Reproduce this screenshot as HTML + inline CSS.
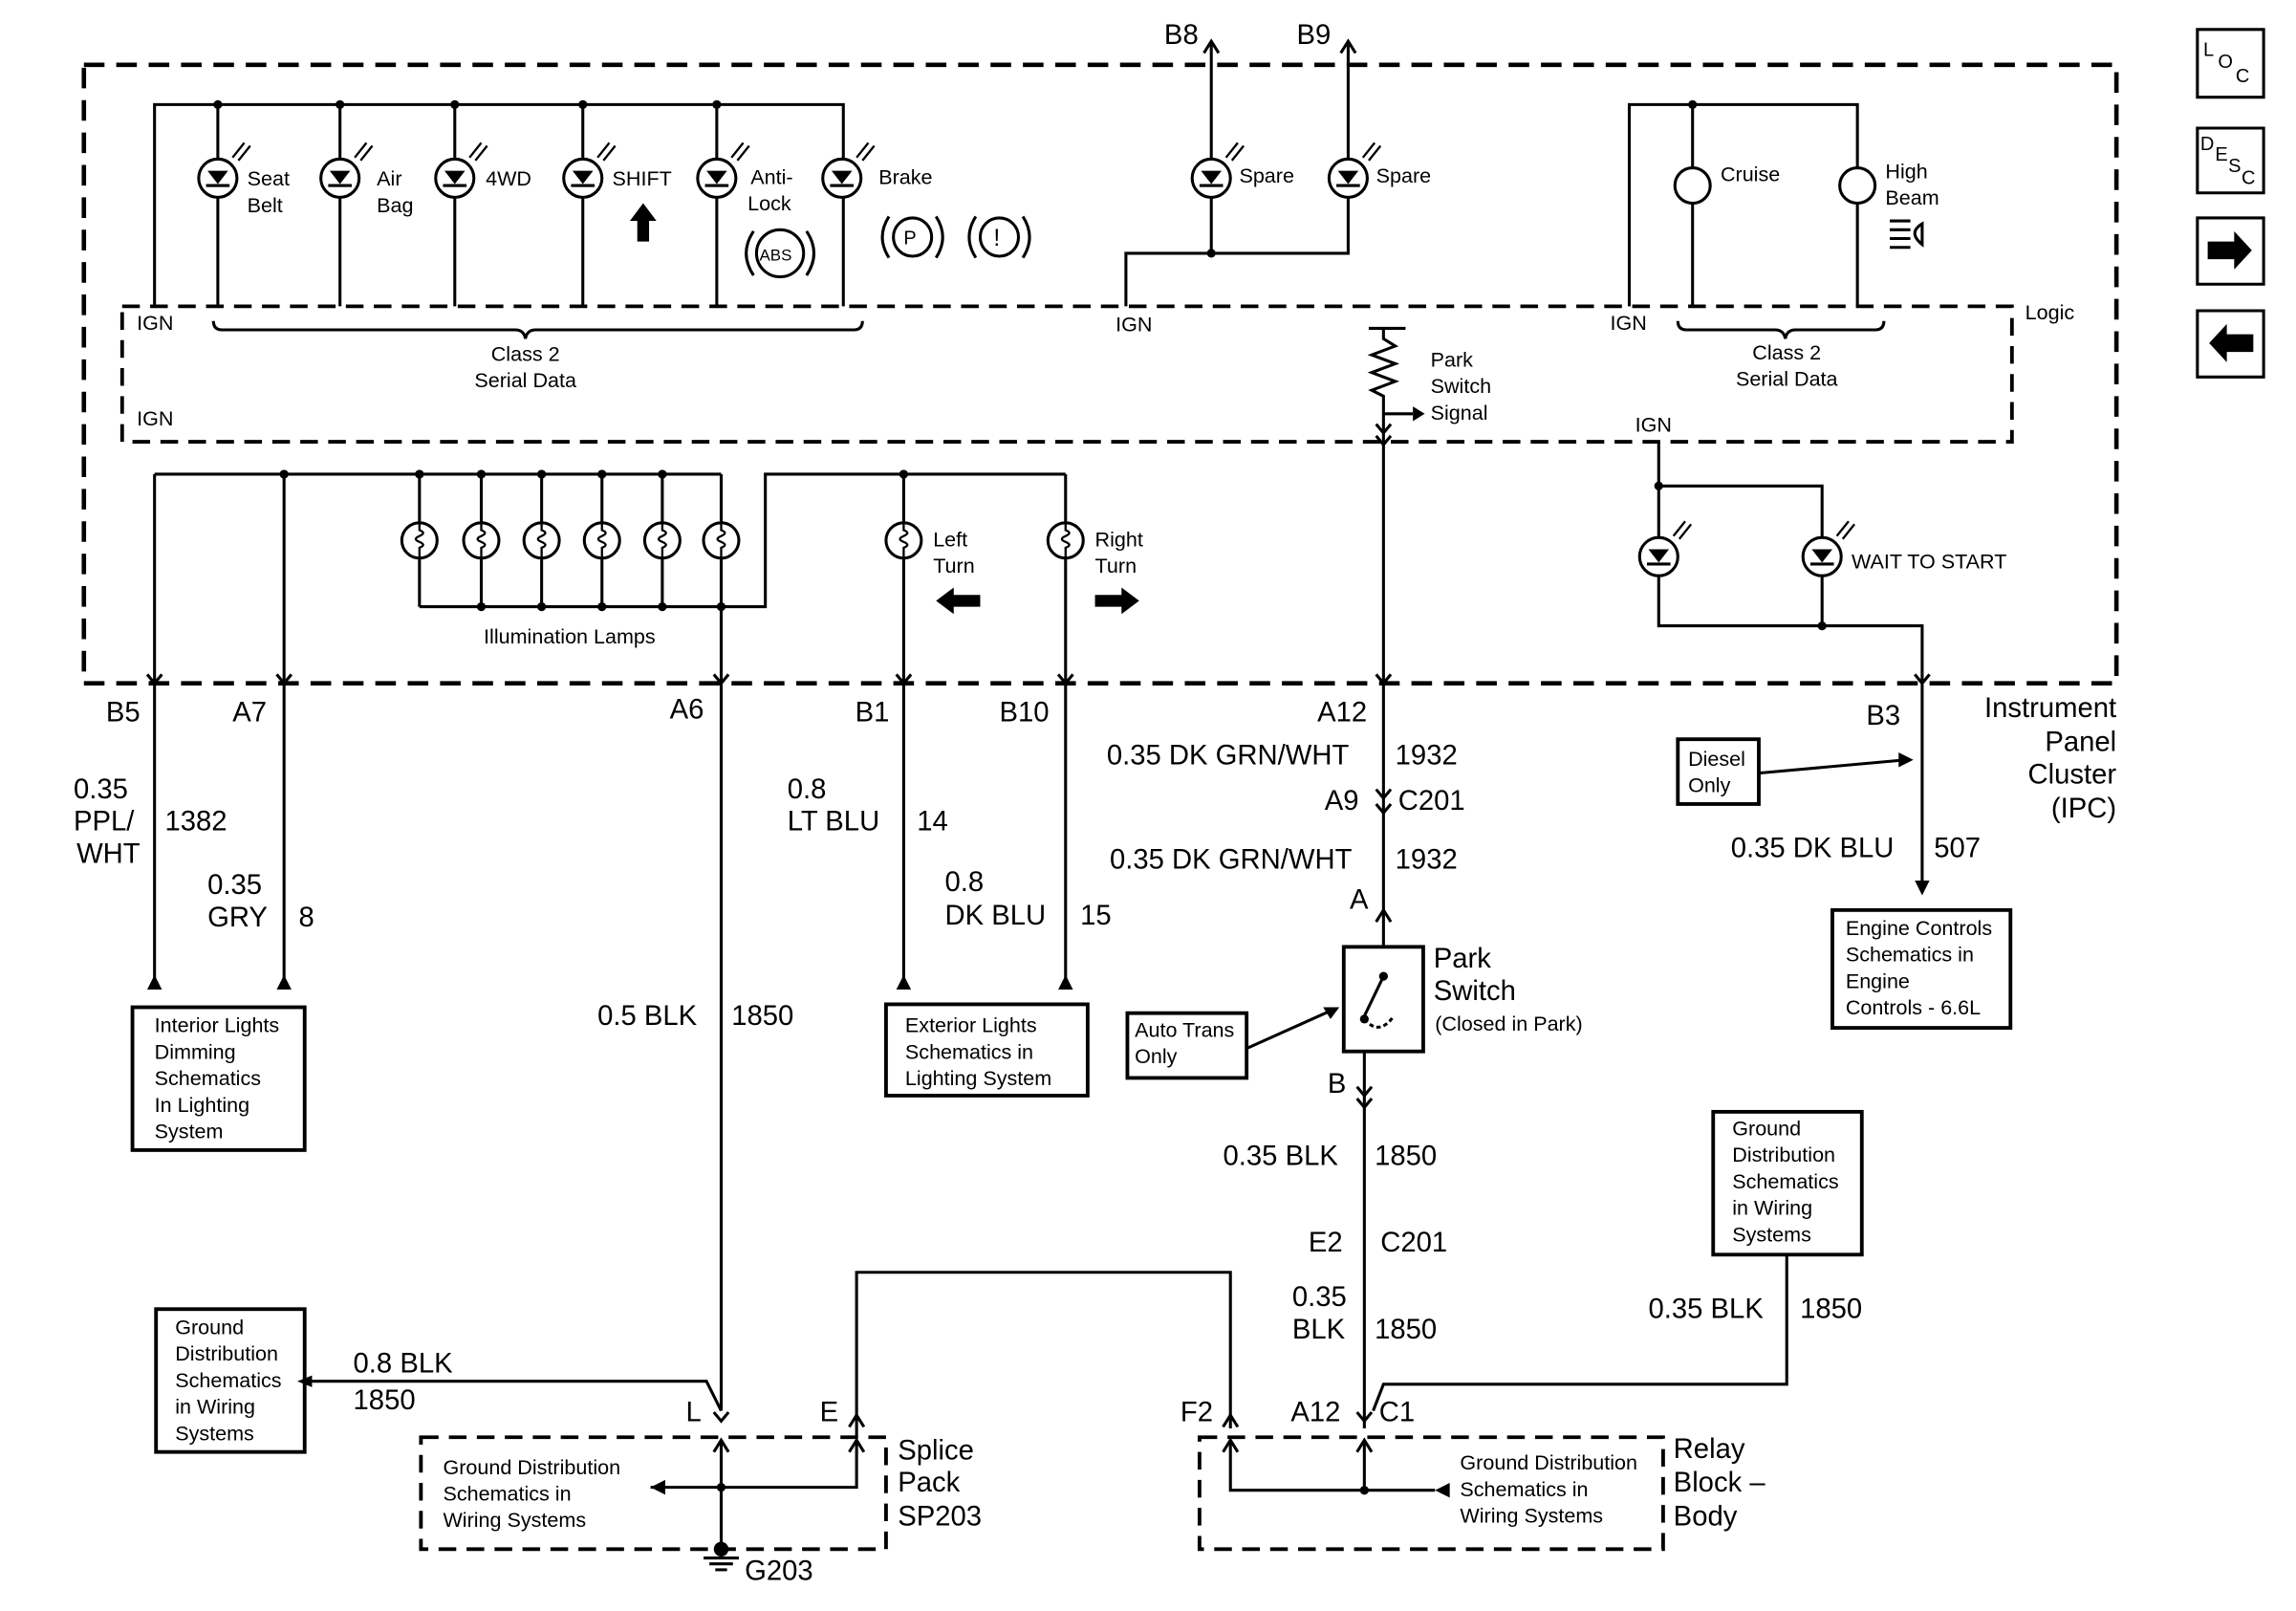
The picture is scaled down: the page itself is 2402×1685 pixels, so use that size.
<!DOCTYPE html>
<html><head><meta charset="utf-8"><style>html,body{margin:0;padding:0;background:#fff}svg{display:block}text{font-family:"Liberation Sans",Arial,sans-serif;fill:#000}</style></head>
<body>
<svg width="2402" height="1685" viewBox="0 0 1560 1094" preserveAspectRatio="none" xmlns="http://www.w3.org/2000/svg">
<defs>
<g id="led"><circle r="13" fill="#fff" stroke="#000" stroke-width="2"/><path d="M-7,-5 L7,-5 L0,4 Z" fill="#000"/><line x1="-8" y1="5" x2="8" y2="5" stroke="#000" stroke-width="2"/><path d="M10,-14 l8,-10 M14,-12 l8,-10" stroke="#000" stroke-width="1.5"/></g>
<g id="bulb"><circle r="12" fill="#fff" stroke="#000" stroke-width="2"/><path d="M0,-12 v5 q5,2 0,4 q-5,2 0,4 q5,2 0,4 v7" fill="none" stroke="#000" stroke-width="1.5"/></g>
<g id="chev"><path d="M-5,-4 L0,2 L5,-4" fill="none" stroke="#000" stroke-width="2"/></g>
<g id="up"><path d="M-5,4 L0,-4 L5,4" fill="none" stroke="#000" stroke-width="2"/></g>
</defs>
<g fill="none" stroke="#000">
<rect x="57" y="44" width="1381" height="420" stroke-width="3" stroke-dasharray="14,8"/>
<rect x="83" y="208" width="1284" height="92" stroke-width="2.5" stroke-dasharray="12,7"/>
<rect x="286" y="976" width="316" height="76" stroke-width="2.5" stroke-dasharray="12,7"/>
<rect x="815" y="976" width="315" height="76" stroke-width="2.5" stroke-dasharray="12,7"/>
<g stroke-width="2">
<path d="M105,208 V71 H573 V208 M148,71V208 M231,71V208 M309,71V208 M396,71V208 M487,71V208"/>
<path d="M145,218 q0,6 6,6 H350 q6,0 7,6 q1,-6 7,-6 H580 q6,0 6,-6"/>
<path d="M823,30 V172 M916,30 V172 H765 V208"/>
<path d="M1107,208 V71 H1262 V208 M1150,71 V208"/>
<path d="M1140,218 q0,6 6,6 H1206 q6,0 7,6 q1,-6 7,-6 H1274 q6,0 6,-6"/>
<path d="M930,223 H955 M940,223 V230 l8,5 l-16,6 l16,6 l-16,6 l16,6 l-16,6 l8,4 V300"/>
<path d="M940,281 H960"/>
<path d="M1127,300 V425 H1306 V605 M1127,330 H1238 V425"/>
<path d="M105,322 H490 M105,322 V672 M193,322 V672 M285,322V412 M327,322V412 M368,322V412 M409,322V412 M450,322V412 M490,322V958 M285,412 H520 V322 H724 M614,322 V672 M724,322 V672"/>
<path d="M940,300 V643 M927,714 V970"/>
<rect x="913" y="643" width="54" height="71" stroke-width="2.5"/>
<path d="M940,663 L927,690" />
<path d="M927,692 q10,12 20,-2" stroke-dasharray="3,2"/>
<path d="M207,938 H480 L490,958"/>
<path d="M582,976 V864 H836 V970"/>
<path d="M933,958 L940,940 H1214 V852"/>
<path d="M490,978 V1050 M582,978 V1010 H442 M836,978 V1012 H975 M927,978 V1012"/>
<path d="M1195,525 L1295,516 M847,712 L905,686"/>
<rect x="90" y="684" width="117" height="97" stroke-width="2.5"/>
<rect x="602" y="682" width="137" height="62" stroke-width="2.5"/>
<rect x="1245" y="618" width="121" height="80" stroke-width="2.5"/>
<rect x="1140" y="502" width="55" height="44" stroke-width="2.5"/>
<rect x="766" y="688" width="81" height="44" stroke-width="2.5"/>
<rect x="1164" y="755" width="101" height="97" stroke-width="2.5"/>
<rect x="106" y="889" width="101" height="97" stroke-width="2.5"/>
<path d="M1493,20h45v46h-45z M1493,87h45v44h-45z M1493,148h45v45h-45z M1493,211h45v45h-45z"/>
<path d="M478,1058 H502 M482,1062 H498 M486,1066 H494"/>
<path d="M1150,115 v22 M1262,115 v22"/>
</g></g>
<g fill="#000">
<circle cx="148" cy="71" r="3"/><circle cx="231" cy="71" r="3"/><circle cx="309" cy="71" r="3"/><circle cx="396" cy="71" r="3"/><circle cx="487" cy="71" r="3"/><circle cx="1150" cy="71" r="3"/><circle cx="823" cy="172" r="3"/>
<circle cx="193" cy="322" r="3"/><circle cx="285" cy="322" r="3"/><circle cx="327" cy="322" r="3"/><circle cx="368" cy="322" r="3"/><circle cx="409" cy="322" r="3"/><circle cx="450" cy="322" r="3"/><circle cx="614" cy="322" r="3"/>
<circle cx="327" cy="412" r="3"/><circle cx="368" cy="412" r="3"/><circle cx="409" cy="412" r="3"/><circle cx="450" cy="412" r="3"/><circle cx="490" cy="412" r="3"/>
<circle cx="1127" cy="330" r="3"/><circle cx="1238" cy="425" r="3"/><circle cx="490" cy="1010" r="3"/><circle cx="927" cy="1012" r="3"/><circle cx="490" cy="1052" r="5"/>
<circle cx="940" cy="663" r="3"/><circle cx="927" cy="692" r="3"/>
<path d="M960,276 L968,281 L960,286Z M100,672 h10 l-5,-10Z M188,672 h10 l-5,-10Z M609,672 h10 l-5,-10Z M719,672 h10 l-5,-10Z M1301,598 h10 l-5,10Z M1300,516 l-10,-5 v10Z M910,684 l-11,0 l5,8Z M442,1010 l10,-5 v10Z M975,1012 l10,-5 v10Z M202,938 l10,-4 v8Z"/>
<path d="M636,408 l12,-9 v5 h18 v8 h-18 v5Z M774,408 l-12,-9 v5 h-18 v8 h18 v5Z M437,138 l-9,12 h5 v14 h8 v-14 h5Z"/>
<path d="M1500,164 h18 v-7 l12,13 l-12,13 v-7 h-18Z M1531,227 h-18 v-7 l-12,13 l12,13 v-7 h18Z"/>
</g>
<g>
<use href="#led" x="148" y="121"/><use href="#led" x="231" y="121"/><use href="#led" x="309" y="121"/><use href="#led" x="396" y="121"/><use href="#led" x="487" y="121"/><use href="#led" x="572" y="121"/>
<use href="#led" x="823" y="121"/><use href="#led" x="916" y="121"/><use href="#led" x="1127" y="378"/><use href="#led" x="1238" y="378"/>
<use href="#bulb" x="285" y="367"/><use href="#bulb" x="327" y="367"/><use href="#bulb" x="368" y="367"/><use href="#bulb" x="409" y="367"/><use href="#bulb" x="450" y="367"/><use href="#bulb" x="490" y="367"/><use href="#bulb" x="614" y="367"/><use href="#bulb" x="724" y="367"/>
<use href="#chev" x="105" y="462"/><use href="#chev" x="193" y="462"/><use href="#chev" x="490" y="462"/><use href="#chev" x="614" y="462"/><use href="#chev" x="724" y="462"/><use href="#chev" x="940" y="462"/><use href="#chev" x="1306" y="462"/>
<use href="#chev" x="940" y="300"/><use href="#chev" x="940" y="292"/><use href="#chev" x="940" y="540"/><use href="#chev" x="940" y="550"/><use href="#up" x="940" y="622"/><use href="#chev" x="927" y="742"/><use href="#chev" x="927" y="750"/>
<use href="#up" x="823" y="32"/><use href="#up" x="916" y="32"/><use href="#chev" x="490" y="963"/><use href="#up" x="582" y="965"/><use href="#up" x="836" y="965"/><use href="#chev" x="927" y="963"/>
<use href="#up" x="490" y="982"/><use href="#up" x="582" y="982"/><use href="#up" x="836" y="982"/><use href="#up" x="927" y="982"/>
</g>
<g fill="none" stroke="#000" stroke-width="2">
<circle cx="1150" cy="126" r="12" fill="#fff"/><circle cx="1262" cy="126" r="12" fill="#fff"/>
<circle cx="620" cy="161" r="13"/><circle cx="679" cy="161" r="13"/><path d="M604,147 q-9,14 0,28 M636,147 q9,14 0,28 M663,147 q-9,14 0,28 M695,147 q9,14 0,28"/>
<circle cx="530" cy="172" r="16"/><path d="M512,157 q-10,15 0,30 M548,157 q10,15 0,30"/>
<path d="M1306,152 q-10,6 0,14 z M1284,150 h14 M1284,156 h14 M1284,162 h14 M1284,168 h14"/>
</g>
<g font-size="14">
<text x="168" y="126">Seat</text><text x="168" y="144">Belt</text>
<text x="256" y="126">Air</text><text x="256" y="144">Bag</text>
<text x="330" y="126">4WD</text><text x="416" y="126">SHIFT</text>
<text x="510" y="125">Anti-</text><text x="508" y="143">Lock</text><text x="597" y="125">Brake</text>
<text x="614" y="166" font-size="13">P</text><text x="675" y="167" font-size="16">!</text><text x="516" y="177" font-size="11">ABS</text>
<text x="842" y="124">Spare</text><text x="935" y="124">Spare</text>
<text x="1169" y="123">Cruise</text><text x="1281" y="121">High</text><text x="1281" y="139">Beam</text>
<text x="93" y="224">IGN</text><text x="93" y="289">IGN</text><text x="758" y="225">IGN</text><text x="1094" y="224">IGN</text><text x="1111" y="293">IGN</text>
<text x="357" y="245" text-anchor="middle">Class 2</text><text x="357" y="263" text-anchor="middle">Serial Data</text>
<text x="1214" y="244" text-anchor="middle">Class 2</text><text x="1214" y="262" text-anchor="middle">Serial Data</text>
<text x="1376" y="217">Logic</text>
<text x="972" y="249">Park</text><text x="972" y="267">Switch</text><text x="972" y="285">Signal</text>
<text x="387" y="437" text-anchor="middle">Illumination Lamps</text>
<text x="634" y="371">Left</text><text x="634" y="389">Turn</text><text x="744" y="371">Right</text><text x="744" y="389">Turn</text>
<text x="1258" y="386">WAIT TO START</text>
<text x="105" y="701">Interior Lights</text><text x="105" y="719">Dimming</text><text x="105" y="737">Schematics</text><text x="105" y="755">In Lighting</text><text x="105" y="773">System</text>
<text x="615" y="701">Exterior Lights</text><text x="615" y="719">Schematics in</text><text x="615" y="737">Lighting System</text>
<text x="1254" y="635">Engine Controls</text><text x="1254" y="653">Schematics in</text><text x="1254" y="671">Engine</text><text x="1254" y="689">Controls - 6.6L</text>
<text x="1147" y="520">Diesel</text><text x="1147" y="538">Only</text>
<text x="771" y="704">Auto Trans</text><text x="771" y="722">Only</text>
<text x="1177" y="771">Ground</text><text x="1177" y="789">Distribution</text><text x="1177" y="807">Schematics</text><text x="1177" y="825">in Wiring</text><text x="1177" y="843">Systems</text>
<text x="119" y="906">Ground</text><text x="119" y="924">Distribution</text><text x="119" y="942">Schematics</text><text x="119" y="960">in Wiring</text><text x="119" y="978">Systems</text>
<text x="301" y="1001">Ground Distribution</text><text x="301" y="1019">Schematics in</text><text x="301" y="1037">Wiring Systems</text>
<text x="992" y="998">Ground Distribution</text><text x="992" y="1016">Schematics in</text><text x="992" y="1034">Wiring Systems</text>
<text x="975" y="700">(Closed in Park)</text>
</g>
<g font-size="19">
<text x="791" y="30">B8</text><text x="881" y="30">B9</text>
<text x="72" y="490">B5</text><text x="158" y="490">A7</text><text x="455" y="488">A6</text><text x="581" y="490">B1</text><text x="679" y="490">B10</text><text x="895" y="490">A12</text><text x="1268" y="492">B3</text>
<text x="1438" y="487" text-anchor="end">Instrument</text><text x="1438" y="510" text-anchor="end">Panel</text><text x="1438" y="532" text-anchor="end">Cluster</text><text x="1438" y="555" text-anchor="end">(IPC)</text>
<text x="50" y="542">0.35</text><text x="50" y="564">PPL/</text><text x="52" y="586">WHT</text><text x="112" y="564">1382</text>
<text x="141" y="607">0.35</text><text x="141" y="629">GRY</text><text x="203" y="629">8</text>
<text x="535" y="542">0.8</text><text x="535" y="564">LT BLU</text><text x="623" y="564">14</text>
<text x="642" y="605">0.8</text><text x="642" y="628">DK BLU</text><text x="734" y="628">15</text>
<text x="406" y="696">0.5 BLK</text><text x="497" y="696">1850</text>
<text x="752" y="519">0.35 DK GRN/WHT</text><text x="948" y="519">1932</text>
<text x="900" y="550">A9</text><text x="950" y="550">C201</text>
<text x="754" y="590">0.35 DK GRN/WHT</text><text x="948" y="590">1932</text>
<text x="917" y="617">A</text><text x="974" y="657">Park</text><text x="974" y="679">Switch</text>
<text x="902" y="742">B</text>
<text x="1176" y="582">0.35 DK BLU</text><text x="1314" y="582">507</text>
<text x="831" y="791">0.35 BLK</text><text x="934" y="791">1850</text>
<text x="889" y="850">E2</text><text x="938" y="850">C201</text>
<text x="878" y="887">0.35</text><text x="878" y="909">BLK</text><text x="934" y="909">1850</text>
<text x="1120" y="895">0.35 BLK</text><text x="1223" y="895">1850</text>
<text x="240" y="932">0.8 BLK</text><text x="240" y="957">1850</text>
<text x="466" y="965">L</text><text x="557" y="965">E</text>
<text x="610" y="991">Splice</text><text x="610" y="1013">Pack</text><text x="610" y="1036">SP203</text>
<text x="802" y="965">F2</text><text x="877" y="965">A12</text><text x="937" y="965">C1</text>
<text x="1137" y="990">Relay</text><text x="1137" y="1013">Block –</text><text x="1137" y="1036">Body</text>
<text x="506" y="1073">G203</text>
</g>
<g font-size="13"><text x="1497" y="38">L</text><text x="1507" y="46">O</text><text x="1519" y="56">C</text>
<text x="1495" y="102">D</text><text x="1505" y="109">E</text><text x="1514" y="117">S</text><text x="1523" y="125">C</text></g>
</svg>
</body></html>
